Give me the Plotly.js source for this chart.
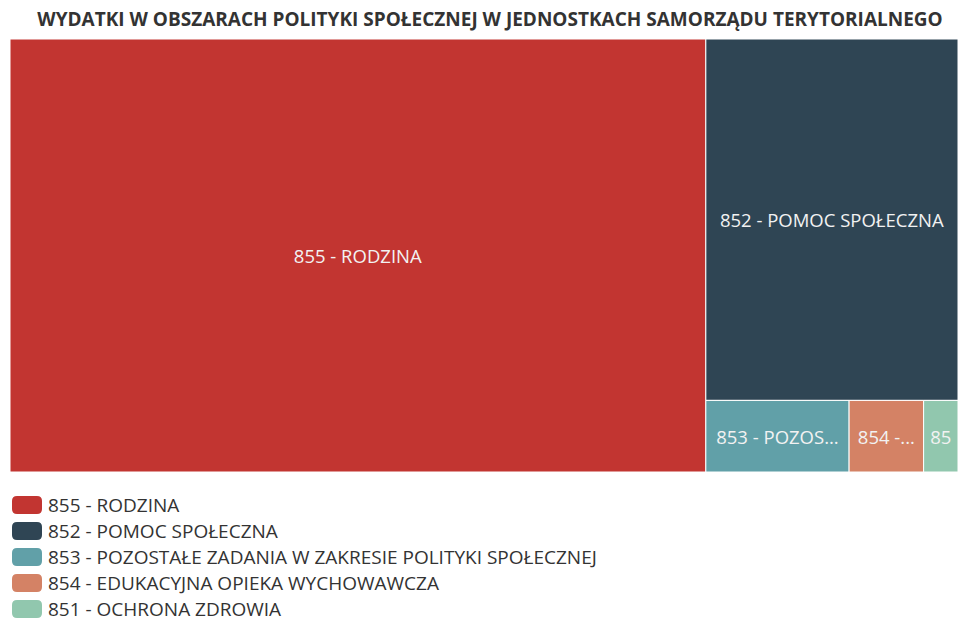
<!DOCTYPE html>
<html>
<head>
<meta charset="utf-8">
<script src="https://cdn.plot.ly/plotly-3.0.1.min.js"></script>
<style>html,body{margin:0;padding:0;background:#fff;}#chart{width:958px;height:621px;}</style>
</head>
<body>
<div id="chart"></div>
<script>
const chartTitle = "WYDATKI W OBSZARACH POLITYKI SPOŁECZNEJ W JEDNOSTKACH SAMORZĄDU TERYTORIALNEGO";
const categories = [
  "855 - RODZINA",
  "852 - POMOC SPOŁECZNA",
  "853 - POZOSTAŁE ZADANIA W ZAKRESIE POLITYKI SPOŁECZNEJ",
  "854 - EDUKACYJNA OPIEKA WYCHOWAWCZA",
  "851 - OCHRONA ZDROWIA"
];
const values = [73.4, 22.2, 2.5, 1.3, 0.6];
const tileLabels = ["855 - RODZINA", "852 - POMOC SPOŁECZNA", "853 - POZOS...", "854 -...", "85"];
const colors = ["#c23531", "#2f4554", "#61a0a8", "#d48265", "#91c7ae"];

const W = 958, H = 621;
const font = "Open Sans, Noto Sans, sans-serif";

const trace = {
  type: "treemap",
  labels: categories,
  parents: categories.map(() => ""),
  values: values,
  customdata: tileLabels,
  texttemplate: "%{customdata}",
  textposition: "middle center",
  textfont: {family: font, size: 18.5, color: "#f2f2f2"},
  marker: {colors: colors, line: {width: 1, color: "#ffffff"}, pad: {t: 0, l: 0, r: 0, b: 0}},
  pathbar: {visible: false},
  tiling: {packing: "squarify", pad: 0},
  sort: true,
  hoverinfo: "label+value",
  domain: {x: [10 / W, 1], y: [1 - 472 / H, 1 - 39 / H]}
};

// legend drawn as layout shapes + annotations
const shapes = [];
const annotations = [];
const rowY0 = 505, rowStep = 26;
categories.forEach((c, i) => {
  const cy = rowY0 + i * rowStep;
  const x0 = 12, x1 = 42, y0 = cy - 9, y1 = cy + 9, r = 5;
  const px = v => v / W, py = v => 1 - v / H;
  const path = `M ${px(x0 + r)} ${py(y0)} L ${px(x1 - r)} ${py(y0)} Q ${px(x1)} ${py(y0)} ${px(x1)} ${py(y0 + r)} ` +
    `L ${px(x1)} ${py(y1 - r)} Q ${px(x1)} ${py(y1)} ${px(x1 - r)} ${py(y1)} L ${px(x0 + r)} ${py(y1)} ` +
    `Q ${px(x0)} ${py(y1)} ${px(x0)} ${py(y1 - r)} L ${px(x0)} ${py(y0 + r)} Q ${px(x0)} ${py(y0)} ${px(x0 + r)} ${py(y0)} Z`;
  shapes.push({type: "path", xref: "paper", yref: "paper", path: path, fillcolor: colors[i], line: {width: 0}});
  annotations.push({
    xref: "paper", yref: "paper", x: 46 / W, y: 1 - cy / H, xanchor: "left", yanchor: "middle",
    text: c, showarrow: false, font: {family: font, size: 19, color: "#333333"}
  });
});

const layout = {
  width: W, height: H,
  margin: {l: 0, r: 0, t: 0, b: 0},
  paper_bgcolor: "#ffffff",
  title: {
    text: "<b>" + chartTitle + "</b>",
    x: 490 / W, xanchor: "center", xref: "paper",
    y: 1 - 19 / H, yanchor: "middle", yref: "container",
    font: {family: font, size: 19, color: "#333333"}
  },
  shapes: shapes,
  annotations: annotations,
  uniformtext: {mode: false}
};

Plotly.newPlot("chart", [trace], layout, {displayModeBar: false, staticPlot: false});
</script>
</body>
</html>
